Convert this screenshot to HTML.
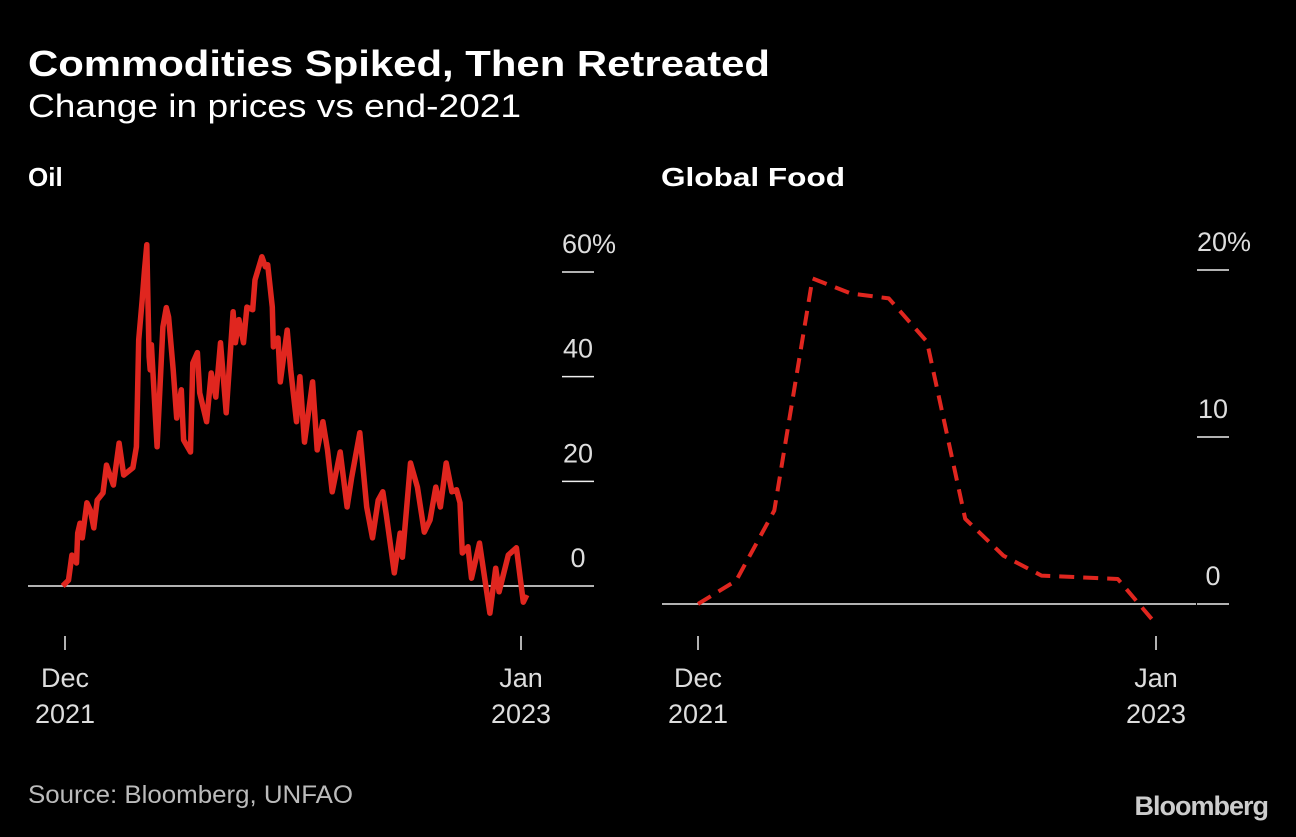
<!DOCTYPE html>
<html><head><meta charset="utf-8">
<style>
body{margin:0;background:#000;width:1296px;height:832px;overflow:hidden;font-family:"Liberation Sans",sans-serif;}
svg text{font-family:"Liberation Sans",sans-serif;}
</style></head>
<body>
<svg width="1296" height="832">
<text x="28" y="76" fill="#fff" font-size="36" font-weight="bold" textLength="742" lengthAdjust="spacingAndGlyphs">Commodities Spiked, Then Retreated</text>
<text x="28" y="117" fill="#fff" font-size="32" textLength="493" lengthAdjust="spacingAndGlyphs">Change in prices vs end-2021</text>
<text x="28" y="186" fill="#fff" font-size="26" font-weight="bold">Oil</text>
<text x="661" y="186" fill="#fff" font-size="26" font-weight="bold" textLength="184" lengthAdjust="spacingAndGlyphs">Global Food</text>
<g id="oil"></g>
<g id="food"></g>
<text x="28" y="803" fill="#bbb" font-size="25" textLength="325" lengthAdjust="spacingAndGlyphs">Source: Bloomberg, UNFAO</text>
<text x="1268" y="815" fill="#ccc" font-size="27" font-weight="bold" text-anchor="end" letter-spacing="-1">Bloomberg</text>
</svg>
<script>
const oilDays=[-2,3,6,10,11,13,15,19,22,25,28,33,36,42,47,51,59,62,64,67,69,71,73,74,75,80,85,88,90,94,97,101,103,109,111,115,117,123,127,131,135,140,146,148,151,155,158,163,165,171,174,176,180,181,185,187,193,196,201,204,208,215,219,224,228,232,239,245,249,256,262,267,272,276,279,286,291,293,300,306,312,317,322,326,331,336,340,343,345,350,353,360,369,374,377,385,392,398,401];
const oilValues=[0,1.1,5.9,4.4,10.1,12,9.2,15.9,14.5,11.1,16.4,17.8,23.1,19.3,27.3,21.2,22.6,26.6,47,54.7,60.4,65.2,43.8,41.3,46.1,26.6,49.5,53.2,51.4,41.3,32.1,37.5,27.9,25.6,42.6,44.6,36.9,31.4,40.7,36.1,46.5,33.1,52.4,46.5,50.9,46.5,53.3,52.8,58.5,62.9,61,61.4,53.3,45.7,47.4,39,48.9,41.3,31.4,40,27.5,39,26,31.4,26,18,25.6,15.1,20.8,29.3,15.1,9.2,16.4,18,13.6,2.5,10.1,5.5,23.5,18.9,10.3,12.6,18.9,15.1,23.5,18,18.4,15.9,6.3,7.5,1.5,8.2,-5.2,3.4,-1.1,5.9,7.3,-3.1,-1.7];
const oilTicks=[0,20,40,60];
const oilTickLabels=["0","20","40","60%"];
const foodMonths=[0,1,2,3,4,5,6,7,8,9,10,11,12];
const foodValues=[0,1.4,5.6,19.5,18.6,18.3,15.7,5.1,2.9,1.7,1.6,1.5,-1.2];
const foodTicks=[0,10,20];
const foodTickLabels=["0","10","20%"];
const xLabels=[["Dec","2021"],["Jan","2023"]];
const NS="http://www.w3.org/2000/svg";
function mk(p,tag,attrs){const e=document.createElementNS(NS,tag);for(const k in attrs)e.setAttribute(k,attrs[k]);p.appendChild(e);return e;}
function panel(g,cfg){
  const xs=v=>cfg.x0+(v-cfg.d0)/(cfg.d1-cfg.d0)*(cfg.x1-cfg.x0);
  const ys=v=>cfg.y0-v*cfg.k;
  const ax=mk(g,'line',{x1:cfg.ax0,x2:cfg.ax1,y1:ys(0),y2:ys(0),stroke:'#eee','stroke-width':1.5});
  
  
  cfg.ticks.forEach((t,i)=>{
    const l=mk(g,'line',{x1:cfg.tx0,x2:cfg.tx0+32,y1:ys(t),y2:ys(t),stroke:'#eee','stroke-width':1.5});
    
    
    const tx=mk(g,'text',{x:cfg.tx0+16,y:ys(t)-19,fill:'#ddd','font-size':27,'text-anchor':'middle'});
    tx.textContent=cfg.labels[i];
    if(i==cfg.ticks.length-1){tx.setAttribute('text-anchor','start');tx.setAttribute('x',cfg.tx0);}
    
    
  });
  [cfg.d0,cfg.d1].forEach((d,i)=>{
    const x=xs(d);
    const l=mk(g,'line',{x1:x,x2:x,y1:636,y2:650,stroke:'#eee','stroke-width':1.5});
    
    
    xLabels[i].forEach((s,j)=>{
      const t=mk(g,'text',{x:x,y:687+j*36,fill:'#ddd','font-size':27,'text-anchor':'middle'});
      t.textContent=s;
      
      
    });
  });
  const d=cfg.xv.map((v,i)=>(i?'L':'M')+xs(v).toFixed(1)+' '+ys(cfg.yv[i]).toFixed(1)).join(' ');
  const p=mk(g,'path',{d:d,fill:'none',stroke:'#e0261f','stroke-width':cfg.w,'stroke-linejoin':'round'});
  if(cfg.dash)p.setAttribute('stroke-dasharray',cfg.dash);
  
  
}
panel(document.getElementById('oil'),{x0:65,x1:521,d0:0,d1:396,y0:586,k:5.233,ax0:28,ax1:562,tx0:562,ticks:oilTicks,labels:oilTickLabels,xv:oilDays,yv:oilValues,w:5.5,name:'oil-line'});
panel(document.getElementById('food'),{x0:698,x1:1156,d0:0,d1:12,y0:604,k:16.7,ax0:662,ax1:1196,tx0:1197,ticks:foodTicks,labels:foodTickLabels,xv:foodMonths,yv:foodValues,w:4,dash:'15 9',name:'food-line'});
</script>
</body></html>
